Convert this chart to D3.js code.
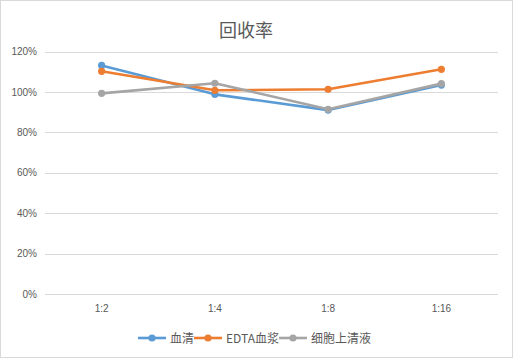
<!DOCTYPE html>
<html>
<head>
<meta charset="utf-8">
<script src="https://cdn.jsdelivr.net/npm/d3@7"></script>
<style>
body { margin: 0; background: #fff; }
text { font-family: "Noto Sans CJK SC", "Liberation Sans", sans-serif; }
</style>
</head>
<body>
<svg id="chart" width="513" height="358"></svg>
<script>
const categories = ["1:2", "1:4", "1:8", "1:16"];
const seriesNames = ["血清", "EDTA血浆", "细胞上清液"];
const serum = [113.1, 98.8, 91.0, 103.4];
const edtaPlasma = [110.2, 100.8, 101.3, 111.2];
const supernatant = [99.3, 104.3, 91.4, 104.1];
const yTicks = [0, 20, 40, 60, 80, 100, 120];
const colors = ["#5b9bd5", "#ed7d31", "#a5a5a5"];

const series = [serum, edtaPlasma, supernatant];

const svg = d3.select("#chart");
const W = 513, H = 358;

// chart border
svg.append("rect")
  .attr("x", 0.5).attr("y", 0.5)
  .attr("width", W - 1).attr("height", H - 1)
  .attr("fill", "#fff").attr("stroke", "#d9d9d9");

const margin = {left: 45, right: 15, top: 51.5, bottom: 64};

const x = d3.scaleBand()
  .domain(categories)
  .range([margin.left, W - margin.right]);

const y = d3.scaleLinear()
  .domain([0, 120])
  .range([H - margin.bottom, margin.top]);

// title
svg.append("text")
  .attr("x", 246).attr("y", 37)
  .attr("text-anchor", "middle")
  .attr("font-size", 18)
  .attr("fill", "#595959")
  .text("回收率");

// gridlines
svg.append("g")
  .selectAll("line")
  .data(yTicks)
  .join("line")
    .attr("x1", margin.left).attr("x2", W - margin.right)
    .attr("y1", d => Math.round(y(d)) + 0.5)
    .attr("y2", d => Math.round(y(d)) + 0.5)
    .attr("stroke", "#d9d9d9").attr("stroke-width", 1);

// y axis labels
const yAxis = d3.axisLeft(y).tickValues(yTicks).tickSize(0).tickPadding(8)
  .tickFormat(d => d + "%");
svg.append("g")
  .attr("transform", "translate(" + margin.left + ",0)")
  .call(yAxis)
  .call(g => g.select(".domain").remove())
  .call(g => g.selectAll("text")
    .attr("font-size", 10)
    .attr("fill", "#595959")
    .style("font-family", "'Liberation Sans', sans-serif"));

// x axis labels
const xAxis = d3.axisBottom(x).tickSize(0).tickPadding(11);
svg.append("g")
  .attr("transform", "translate(0," + y(0) + ")")
  .call(xAxis)
  .call(g => g.select(".domain").remove())
  .call(g => g.selectAll("text")
    .attr("font-size", 10)
    .attr("fill", "#595959")
    .style("font-family", "'Liberation Sans', sans-serif"));

const cx = d => x(d) + x.bandwidth() / 2;
const line = d3.line()
  .x((d, i) => cx(categories[i]))
  .y(d => y(d));

series.forEach((vals, si) => {
  const g = svg.append("g");
  g.append("path")
    .datum(vals)
    .attr("d", line)
    .attr("fill", "none")
    .attr("stroke", colors[si])
    .attr("stroke-width", 2.6)
    .attr("stroke-linejoin", "round");
  g.selectAll("circle")
    .data(vals)
    .join("circle")
      .attr("cx", (d, i) => cx(categories[i]))
      .attr("cy", d => y(d))
      .attr("r", 3.6)
      .attr("fill", colors[si]);
});

// legend
const legend = svg.append("g");
let lx = 0;
const items = [];
seriesNames.forEach((name, i) => {
  const it = legend.append("g").attr("transform", "translate(" + lx + ",0)");
  it.append("line")
    .attr("x1", 0).attr("x2", 28)
    .attr("y1", 0).attr("y2", 0)
    .attr("stroke", colors[i]).attr("stroke-width", 2.6);
  it.append("circle").attr("cx", 14).attr("cy", 0).attr("r", 3.6).attr("fill", colors[i]);
  const t = it.append("text")
    .attr("x", 32).attr("y", 4.5)
    .attr("font-size", 12)
    .attr("fill", "#595959")
    .text(name);
  lx += 32 + t.node().getComputedTextLength() + 0;
});
legend.attr("transform", "translate(" + (138) + ",338)");
</script>
</body>
</html>
